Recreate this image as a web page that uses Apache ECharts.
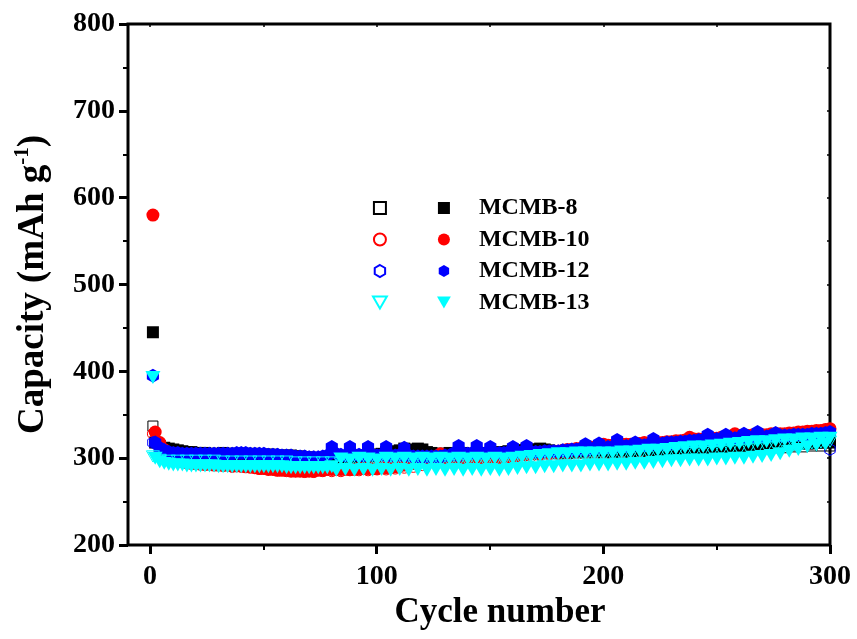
<!DOCTYPE html>
<html><head><meta charset="utf-8">
<script src="https://cdn.jsdelivr.net/npm/echarts@6/dist/echarts.min.js"></script>
<style>html,body{margin:0;padding:0;background:#fff}#c{width:857px;height:639px}</style>
</head><body><div id="c"></div>
<script>
// x positions (cycle numbers) for filled symbols: 1, 2, 4, ..., 300
const cycles = [1];
for (let c = 2; c <= 300; c += 2) cycles.push(c);
// x positions for open symbols: 1, 4, 8, ..., 300
const openCycles = [1];
for (let c = 4; c <= 300; c += 4) openCycles.push(c);

const names = ['MCMB-8', 'MCMB-10', 'MCMB-12', 'MCMB-13'];
const openNames = ['MCMB-8 (open)', 'MCMB-10 (open)', 'MCMB-12 (open)', 'MCMB-13 (open)'];
const xTicks = [0, 100, 200, 300];
const yTicks = [200, 300, 400, 500, 600, 700, 800];

const mcmb8 = [445,
 318,314,312,311,310,309,308,307,307,306,
 306,306,305,305,305,306,305,305,305,305,
 305,304,305,304,304,304,304,303,303,303,
 303,302,302,301,301,300,300,300,300,301,
 301,301,302,302,302,303,303,303,304,304,
 305,307,306,308,309,311,310,309,311,310,
 307,306,305,305,305,306,305,306,306,305,
 305,305,305,306,306,306,307,307,308,308,
 309,309,310,310,310,311,310,309,308,307,
 307,307,308,308,308,309,309,309,309,309,
 308,308,309,309,309,309,309,310,310,310,
 310,310,311,311,311,311,312,312,312,312,
 312,312,313,313,313,313,313,314,314,314,
 314,314,315,315,315,315,315,316,316,316,
 316,316,317,317,317,317,318,318,318,318];
const mcmb10 = [580,
 330,318,310,305,301,298,296,295,294,294,
 293,293,293,292,292,292,292,291,291,291,
 290,290,289,288,288,287,287,286,286,286,
 285,285,285,285,285,285,286,286,287,287,
 287,287,287,287,287,288,288,288,288,288,
 289,289,289,290,291,292,293,294,295,297,
 299,300,302,305,301,300,300,300,300,299,
 299,299,300,300,300,301,301,302,302,303,
 303,304,304,305,305,305,306,306,307,308,
 309,310,310,311,311,312,313,313,314,316,
 315,315,316,316,316,316,317,317,318,317,
 318,318,318,319,319,320,320,321,324,322,
 322,322,323,323,323,324,324,325,328,326,
 326,326,327,327,327,327,328,328,328,328,
 329,329,330,330,331,331,332,332,333,334];
const mcmb12 = [395,
 318,312,309,307,306,306,305,305,305,305,
 305,305,305,305,305,305,305,305,306,306,
 306,305,305,305,305,304,304,304,303,303,
 303,302,302,302,301,301,301,302,303,313,
 305,304,303,313,304,304,303,313,304,303,
 304,313,303,303,304,312,303,302,302,302,
 302,302,302,302,303,303,306,314,306,305,
 306,314,306,306,313,306,306,306,307,313,
 307,307,314,307,307,307,308,308,308,308,
 309,309,310,310,311,316,311,312,317,312,
 313,313,321,314,314,314,318,315,315,316,
 322,317,317,318,318,318,319,319,320,320,
 321,321,327,322,322,323,327,323,323,324,
 328,324,325,330,325,325,326,329,326,326,
 326,327,327,327,327,328,328,328,329,330];
const mcmb13 = [393,
 300,296,294,293,292,292,292,291,291,291,
 291,291,291,291,290,290,290,290,290,290,
 290,290,290,290,290,290,290,290,290,289,
 289,289,289,289,289,289,289,289,289,290,
 286,299,287,298,286,300,287,299,286,298,
 287,300,286,299,287,300,286,299,287,300,
 286,299,287,300,286,299,287,300,286,299,
 287,300,286,299,287,300,286,299,287,300,
 288,301,289,302,289,303,290,304,290,305,
 291,305,291,306,291,306,292,306,292,306,
 292,306,293,307,293,307,294,308,294,309,
 295,309,296,310,297,311,297,312,298,313,
 298,313,298,314,299,315,299,316,300,317,
 300,318,301,319,302,319,303,320,305,321,
 308,321,310,322,313,322,315,323,316,323];

const mcmb8Open = [337,
 313,309,307,306,305,305,304,304,304,304,
 303,303,303,302,302,301,300,299,299,299,
 300,300,301,301,302,303,305,307,307,306,
 304,303,303,303,303,303,304,304,305,305,
 306,307,307,306,305,305,306,306,306,306,
 306,306,307,307,307,307,308,308,309,309,
 309,310,310,310,311,311,311,312,312,312,
 313,313,314,314,314];
const mcmb10Open = [328,
 312,300,296,294,293,292,292,291,290,290,
 289,288,287,286,285,285,284,284,285,285,
 285,286,286,286,287,287,288,289,290,292,
 296,298,298,297,297,297,298,298,299,300,
 301,302,303,304,305,306,308,309,311,312,
 313,313,314,314,315,316,316,317,318,319,
 320,321,322,323,324,325,325,326,326,327,
 328,328,329,330,331];
const mcmb12Open = [318,
 310,306,305,304,304,304,304,304,304,304,
 304,303,303,303,302,301,301,300,300,301,
 302,302,302,302,302,302,302,302,301,301,
 301,301,302,302,303,304,304,305,305,305,
 306,306,306,307,307,307,308,308,309,310,
 311,312,312,313,313,314,314,315,316,317,
 318,319,320,321,321,322,323,323,324,324,
 325,325,326,326,310];
const mcmb13Open = [302,
 298,297,297,297,297,297,297,296,296,296,
 296,296,296,296,296,295,295,295,295,295,
 294,294,294,294,294,294,295,295,295,295,
 295,295,295,295,295,295,295,295,296,296,
 297,298,298,299,299,300,300,300,301,301,
 302,302,303,303,304,304,305,305,306,306,
 307,307,308,309,309,310,311,312,313,314,
 315,316,317,318,319];

const FONT = '"Liberation Serif", "Times New Roman", serif';
const SQUARE = 'path://M0,0 L10,0 L10,10 L0,10 Z';
const HEX = 'path://M5,0 L9.33,2.5 L9.33,7.5 L5,10 L0.67,7.5 L0.67,2.5 Z';
const TRI = 'path://M0,0 L10,0 L5,8.66 Z';
const colors = ['#000000', '#ff0000', '#0000ff', '#00ffff'];
const symbols = ['square', 'circle', 'hex', 'tri'];
const symMap = {square: SQUARE, circle: 'circle', hex: HEX, tri: TRI};
const sizes = [12, 13, 14, 15];

function mk(name, xs, ys, k, hollow) {
  return {
    type: 'scatter', name: name, xAxisIndex: 0, yAxisIndex: 0,
    symbol: symMap[symbols[k]], symbolSize: hollow ? sizes[k] - 2 : sizes[k], symbolKeepAspect: true,
    data: xs.map(function (x, i) { return [x, ys[i]]; }),
    itemStyle: hollow ? {color: 'rgba(255,255,255,0)', borderColor: colors[k], borderWidth: 1, opacity: 1}
                      : {color: colors[k], borderWidth: 0, opacity: 1},
    emphasis: {disabled: true}, silent: true
  };
}
const filled = [mcmb8, mcmb10, mcmb12, mcmb13];
const open = [mcmb8Open, mcmb10Open, mcmb12Open, mcmb13Open];
const series = [];
for (let k = 0; k < 4; k++) {
  series.push(mk(openNames[k], openCycles, open[k], k, true));
  series.push(mk(names[k], cycles, filled[k], k, false));
}

const tickLabel = {fontFamily: FONT, fontWeight: 'bold', fontSize: 28, color: '#000'};
const chart = echarts.init(document.getElementById('c'));
chart.setOption({
  animation: false,
  backgroundColor: '#fff',
  grid: [
    {left: 128, right: 27, top: 24, bottom: 94, show: true, borderColor: '#000', borderWidth: 3, backgroundColor: 'rgba(0,0,0,0)'},
    {left: 150, right: 27, top: 24, bottom: 94}
  ],
  xAxis: [
    {type: 'value', gridIndex: 0, min: -10, max: 300, axisLine: {show: false, onZero: false}, axisTick: {show: false},
     axisLabel: {show: false}, splitLine: {show: false}},
    {type: 'value', gridIndex: 1, min: 0, max: 300, interval: 100, position: 'bottom',
     axisLine: {show: false, onZero: false},
     axisTick: {show: true, inside: false, length: 9, lineStyle: {color: '#000', width: 3}},
     minorTick: {show: true, splitNumber: 2, length: 5, lineStyle: {color: '#000', width: 2}},
     axisLabel: Object.assign({margin: 18, formatter: function (v) { return xTicks.indexOf(v) >= 0 ? String(v) : ''; }}, tickLabel),
     splitLine: {show: false}, minorSplitLine: {show: false},
     name: 'Cycle number', nameLocation: 'middle', nameGap: 50,
     nameTextStyle: {fontFamily: FONT, fontWeight: 'bold', fontSize: 35, color: '#000', padding: [0, 0, 0, 20]}},
    {type: 'value', gridIndex: 1, min: 0, max: 300, interval: 50, position: 'top',
     axisLine: {show: false, onZero: false},
     axisTick: {show: true, inside: true, length: 3, lineStyle: {color: '#000', width: 1.5}},
     axisLabel: {show: false}, splitLine: {show: false}}
  ],
  yAxis: [
    {type: 'value', gridIndex: 0, min: 200, max: 800, interval: 100, position: 'left',
     axisLine: {show: false, onZero: false},
     axisTick: {show: true, inside: false, length: 9, lineStyle: {color: '#000', width: 3}},
     minorTick: {show: true, splitNumber: 2, length: 5, lineStyle: {color: '#000', width: 2}},
     axisLabel: Object.assign({margin: 13, formatter: function (v) { return yTicks.indexOf(v) >= 0 ? String(v) : ''; }}, tickLabel),
     splitLine: {show: false}, minorSplitLine: {show: false},
     name: '{t|Capacity (mAh g}{s|-1}{t|)}', nameLocation: 'middle', nameGap: 74,
     nameTextStyle: {rich: {
       t: {fontFamily: FONT, fontWeight: 'bold', fontSize: 37, color: '#000', lineHeight: 42, verticalAlign: 'middle'},
       s: {fontFamily: FONT, fontWeight: 'bold', fontSize: 21, color: '#000', lineHeight: 21, verticalAlign: 'top'}
     }}},
    {type: 'value', gridIndex: 0, min: 200, max: 800, interval: 50, position: 'right',
     axisLine: {show: false, onZero: false},
     axisTick: {show: true, inside: true, length: 3, lineStyle: {color: '#000', width: 1.5}},
     axisLabel: {show: false}, splitLine: {show: false}},
    {type: 'value', gridIndex: 1, min: 200, max: 800, show: false}
  ],
  legend: [
    {data: openNames, orient: 'vertical', left: 367, top: 191, itemWidth: 60, itemHeight: 12, itemGap: 7.5,
     formatter: function () { return ' '; }, selectedMode: false,
     textStyle: {fontFamily: FONT, fontSize: 24, lineHeight: 24, color: '#000'}},
    {data: names, orient: 'vertical', left: 432, top: 191, itemWidth: 60, itemHeight: 12, itemGap: 7.5,
     selectedMode: false,
     textStyle: {fontFamily: FONT, fontWeight: 'bold', fontSize: 24, lineHeight: 24, color: '#000'}}
  ],
  series: series
});
</script></body></html>
